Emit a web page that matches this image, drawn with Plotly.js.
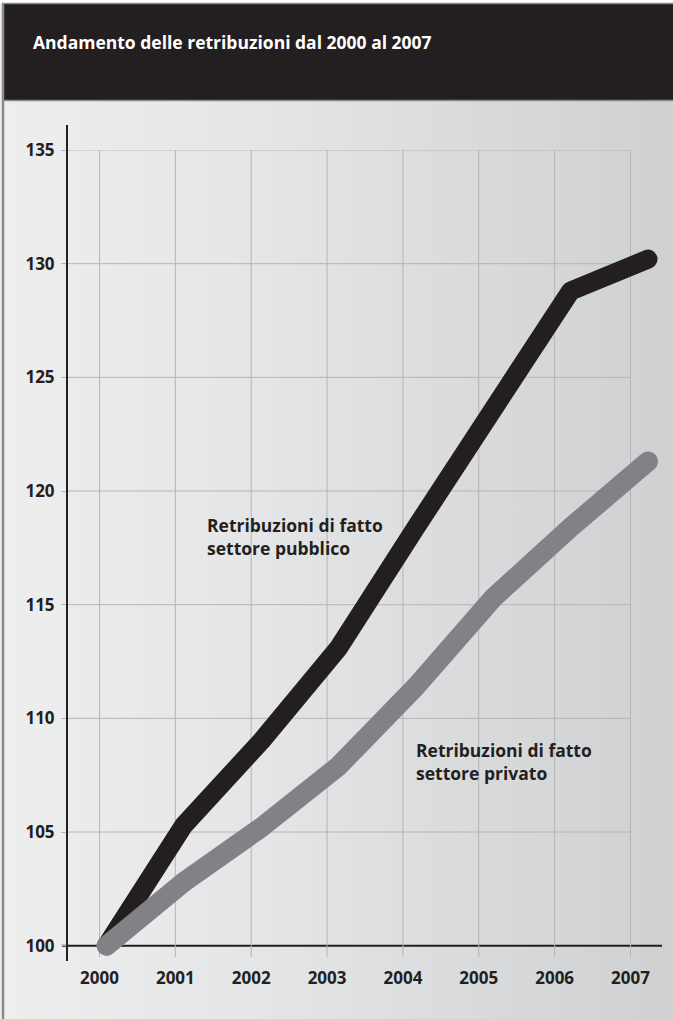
<!DOCTYPE html>
<html>
<head>
<meta charset="utf-8">
<script src="https://cdn.plot.ly/plotly-3.0.1.min.js"></script>
<style>
  html, body { margin: 0; padding: 0; background: #ffffff; }
  #chart { width: 673px; height: 1019px;
    background: linear-gradient(90deg, #eeeeef 0%, #e4e5e6 40%, #cfd0d2 100%); }
  .js-line { stroke-linecap: round !important; stroke-linejoin: round !important; }
</style>
</head>
<body>
<div id="chart"></div>
<script>
// ---- data ----
const years = [2000, 2001, 2002, 2003, 2004, 2005, 2006, 2007];
const pubblico = [100, 105.3, 109.0, 113.1, 118.4, 123.5, 128.8, 130.2];
const privato  = [100, 102.8, 105.2, 107.9, 111.4, 115.3, 118.4, 121.3];
const yTicks = [100, 105, 110, 115, 120, 125, 130, 135];
const titleText = 'Andamento delle retribuzioni dal 2000 al 2007';
const labelPubblico = 'Retribuzioni di fatto<br>settore pubblico';
const labelPrivato = 'Retribuzioni di fatto<br>settore privato';

// ---- layout geometry (pixels) ----
const W = 673, H = 1019;
const M = {l: 67, r: 5, t: 150, b: 40};
const PW = W - M.l - M.r, PH = H - M.t - M.b;
const fx = p => (p - M.l) / PW;          // pixel x -> paper fraction
const fy = p => (H - M.b - p) / PH;      // pixel y -> paper fraction

const dark = '#231f20';
const gridCol = '#b4b5b7';
const FONT = 'Open Sans, Noto Sans, sans-serif';
const yRange = [99.503, 135];

const traces = [
  { x: years, y: pubblico, xaxis: 'x2', yaxis: 'y2', type: 'scatter', mode: 'lines',
    line: { color: dark, width: 19 }, hoverinfo: 'skip', showlegend: false },
  { x: years, y: privato, xaxis: 'x2', yaxis: 'y2', type: 'scatter', mode: 'lines',
    line: { color: '#818285', width: 20 }, hoverinfo: 'skip', showlegend: false }
];

const shapes = [
  // header band
  { type: 'rect', xref: 'paper', yref: 'paper', layer: 'below',
    x0: fx(4), x1: fx(W), y0: fy(100), y1: fy(4),
    fillcolor: dark, line: { width: 0 } },
  // top strip above header
  { type: 'rect', xref: 'paper', yref: 'paper', layer: 'below',
    x0: fx(0), x1: fx(W), y0: fy(4), y1: fy(0),
    fillcolor: '#ffffff', line: { width: 0 } },
  // line under header
  { type: 'line', xref: 'paper', yref: 'paper', layer: 'below',
    x0: fx(4), x1: fx(W), y0: fy(100.5), y1: fy(100.5),
    line: { color: '#8a8a8c', width: 1.5 } },
  // left frame line
  { type: 'line', xref: 'paper', yref: 'paper', layer: 'below',
    x0: fx(3), x1: fx(3), y0: fy(H), y1: fy(3),
    line: { color: '#8a8a8c', width: 2.5 } },
  // top frame line
  { type: 'line', xref: 'paper', yref: 'paper', layer: 'below',
    x0: fx(2), x1: fx(W), y0: fy(3.5), y1: fy(3.5),
    line: { color: '#8a8a8c', width: 1.5 } }
];
// vertical grid lines at every year (grid x axis)
years.forEach(yr => shapes.push({ type: 'line', xref: 'x', yref: 'y', layer: 'below',
  x0: yr, x1: yr, y0: yRange[0], y1: yTicks[yTicks.length - 1],
  line: { color: gridCol, width: 1 } }));
// horizontal grid lines at every tick (stop at the last year line)
yTicks.forEach(v => shapes.push({ type: 'line', xref: 'paper', yref: 'y', layer: 'below',
  x0: fx(67), x1: fx(630.6), y0: v, y1: v,
  line: { color: gridCol, width: 1 } }));
// y axis line
shapes.push({ type: 'line', xref: 'paper', yref: 'paper', layer: 'below',
  x0: fx(67), x1: fx(67), y0: fy(961), y1: fy(125),
  line: { color: dark, width: 2 } });
// baseline at 100
shapes.push({ type: 'line', xref: 'paper', yref: 'y', layer: 'below',
  x0: fx(62), x1: fx(662), y0: yTicks[0], y1: yTicks[0],
  line: { color: dark, width: 2 } });

const layout = {
  width: W, height: H,
  margin: M,
  paper_bgcolor: 'rgba(0,0,0,0)',
  plot_bgcolor: 'rgba(0,0,0,0)',
  showlegend: false,
  font: { family: FONT, color: dark, size: 17 },
  title: {
    text: titleText,
    font: { family: FONT, size: 17.5, color: '#ffffff', weight: 700 },
    x: 33 / W, xanchor: 'left', xref: 'container',
    y: 1 - 43 / H, yanchor: 'middle', yref: 'container'
  },
  xaxis: {
    domain: [0, fx(631)],
    range: [1999.5716, 2007.0066],
    tickvals: years, ticktext: years.map(String),
    showgrid: false, zeroline: false, showline: false, ticks: '',
    ticklabelstandoff: 9,
    tickfont: { family: FONT, size: 17, color: dark, weight: 700 },
    fixedrange: true
  },
  yaxis: {
    domain: [fy(957), 1],
    range: yRange,
    tickvals: yTicks, ticktext: yTicks.map(String),
    showgrid: false, zeroline: false, showline: false,
    ticks: 'outside', ticklen: 5, tickcolor: gridCol, tickwidth: 1,
    ticklabelstandoff: 3,
    tickfont: { family: FONT, size: 17, color: dark, weight: 700 },
    fixedrange: true
  },
  xaxis2: {
    domain: [0, 1], anchor: 'y2',
    range: [1999.4894, 2007.2583],
    visible: false, showgrid: false, zeroline: false, fixedrange: true
  },
  yaxis2: {
    domain: [0, 1], anchor: 'x2',
    range: [98.535, 135],
    visible: false, showgrid: false, zeroline: false, fixedrange: true
  },
  shapes: shapes,
  annotations: [
    { text: labelPubblico, xref: 'paper', yref: 'paper',
      x: fx(205), y: fy(536), xanchor: 'left', yanchor: 'middle', align: 'left',
      showarrow: false, font: { family: FONT, size: 17.5, color: dark, weight: 700 } },
    { text: labelPrivato, xref: 'paper', yref: 'paper',
      x: fx(414), y: fy(761), xanchor: 'left', yanchor: 'middle', align: 'left',
      showarrow: false, font: { family: FONT, size: 17.5, color: dark, weight: 700 } }
  ]
};

Plotly.newPlot('chart', traces, layout, { displayModeBar: false, staticPlot: true });
</script>
</body>
</html>
